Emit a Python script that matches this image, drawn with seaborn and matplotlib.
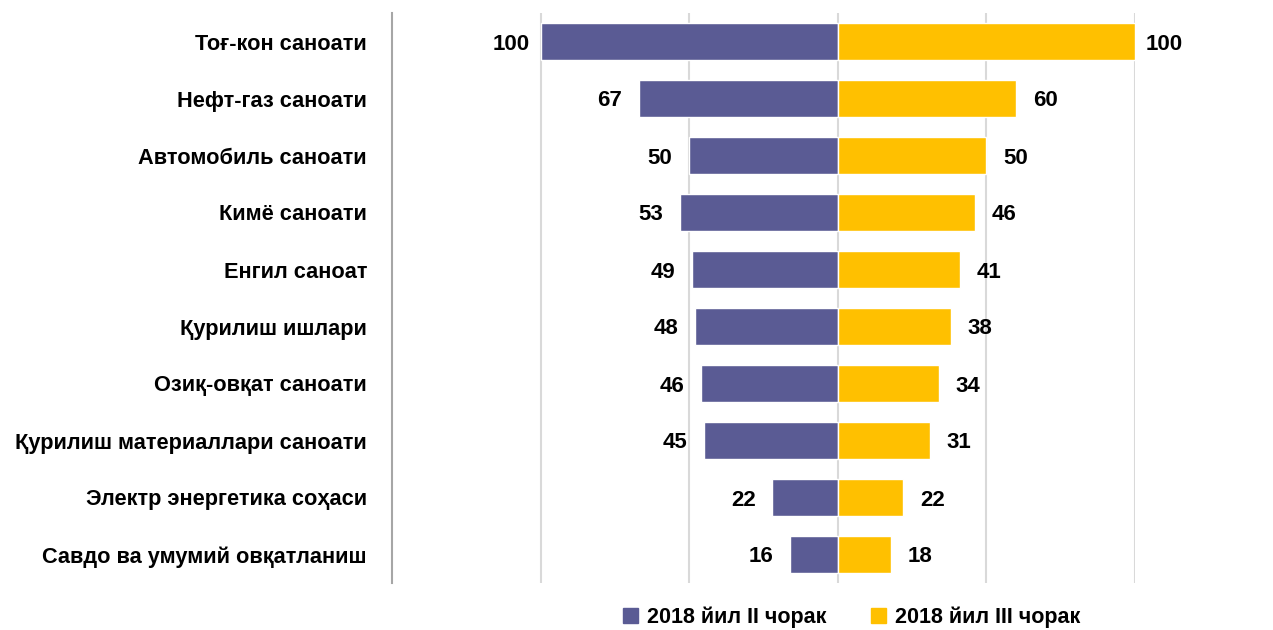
import seaborn as sns
import matplotlib.pyplot as plt
import pandas as pd
from matplotlib.patches import Patch

categories = [
    'Тоғ-кон саноати',
    'Нефт-газ саноати',
    'Автомобиль саноати',
    'Кимё саноати',
    'Енгил саноат',
    'Қурилиш ишлари',
    'Озиқ-овқат саноати',
    'Қурилиш материаллари саноати',
    'Электр энергетика соҳаси',
    'Савдо ва умумий овқатланиш',
]
q2_values = [100, 67, 50, 53, 49, 48, 46, 45, 22, 16]
q3_values = [100, 60, 50, 46, 41, 38, 34, 31, 22, 18]
series_names = ['2018 йил II чорак', '2018 йил III чорак']
colors = ['#5A5B94', '#FFC000']

sns.set_style('white')
plt.rcParams['font.family'] = ['Liberation Sans Narrow', 'Liberation Sans', 'DejaVu Sans']
plt.rcParams['font.weight'] = 'bold'
plt.rcParams['text.color'] = 'black'
plt.rcParams['ytick.color'] = 'black'
plt.rcParams['ytick.labelcolor'] = 'black'

left_df = pd.DataFrame({'cat': categories, 'val': [-v for v in q2_values]})
right_df = pd.DataFrame({'cat': categories, 'val': q3_values})

fig = plt.figure(figsize=(12.73, 6.3), dpi=100)
ax = fig.add_axes([392 / 1273, 1 - 583 / 630, (1135 - 392) / 1273, 570 / 630])

sns.barplot(data=left_df, x='val', y='cat', color=colors[0], width=0.65,
            saturation=1, orient='h', ax=ax, zorder=3)
sns.barplot(data=right_df, x='val', y='cat', color=colors[1], width=0.65,
            saturation=1, orient='h', ax=ax, zorder=3)

ax.set_xlim(-150, 100)
ax.set_ylim(9.5, -0.5)
ax.set_xticks([-100, -50, 0, 50, 100])
ax.set_xticklabels([])
ax.tick_params(axis='x', length=0)
ax.tick_params(axis='y', length=0, pad=18, labelsize=15.7, labelcolor='black')
for lbl in ax.get_yticklabels():
    lbl.set_fontweight('bold')
ax.grid(axis='x', color='#D9D9D9', linewidth=1.5, zorder=0)
ax.set_xlabel('')
ax.set_ylabel('')

for side in ['top', 'right', 'bottom']:
    ax.spines[side].set_visible(False)
ax.spines['left'].set_color('#A6A6A6')
ax.spines['left'].set_linewidth(1.5)

for i, (a, b) in enumerate(zip(q2_values, q3_values)):
    ax.annotate(str(a), xy=(-a, i), xytext=(-21, 0), textcoords='offset points',
                ha='center', va='center_baseline', fontsize=16, fontweight='bold',
                color='black', annotation_clip=False)
    ax.annotate(str(b), xy=(b, i), xytext=(21, 0), textcoords='offset points',
                ha='center', va='center_baseline', fontsize=16, fontweight='bold',
                color='black', annotation_clip=False)

handles = [Patch(color=c, label=n) for c, n in zip(colors, series_names)]
fig.legend(handles=handles, loc='center', bbox_to_anchor=(0.669, 0.02),
           ncol=2, frameon=False, handlelength=0.7, handleheight=0.7,
           handletextpad=0.4, columnspacing=2.1, prop={'weight': 'bold', 'size': 15.5},
           labelcolor='black')

fig.savefig('out.png', dpi=100)
